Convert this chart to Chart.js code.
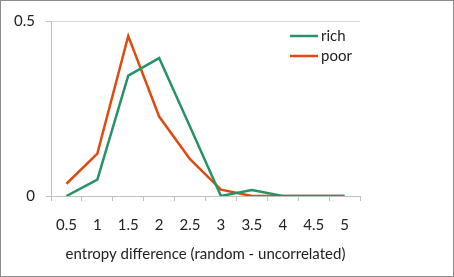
<!DOCTYPE html>
<html>
<head>
<meta charset="utf-8">
<script src="https://cdn.jsdelivr.net/npm/chart.js@4/dist/chart.umd.min.js"></script>
<style>
    body { margin: 0; background: #fff; }
    #wrap { width: 452px; height: 275px; border: 1px solid #8c8c8c; }
</style>
</head>
<body>
<div id="wrap"><canvas id="chart" width="452" height="275"></canvas></div>
<script>
// values
const categories = ['0.5', '1', '1.5', '2', '2.5', '3', '3.5', '4', '4.5', '5'];
const richValues = [0, 0.047, 0.344, 0.394, 0.198, 0, 0.017, 0, 0, 0];
const poorValues = [0.035, 0.121, 0.457, 0.227, 0.105, 0.018, 0, 0, 0, 0];
const yTicks = [0, 0.5];

const fontFamily = 'Lato, "Open Sans", sans-serif';

// legend drawn inside the plot, top right, like the original
const insideLegend = {
    id: 'insideLegend',
    afterDraw(chart) {
        const ctx = chart.ctx;
        const area = chart.chartArea;
        ctx.save();
        ctx.font = '15px ' + fontFamily;
        ctx.textBaseline = 'middle';
        chart.data.datasets.forEach((ds, i) => {
            const y = area.top + 15 + i * 20;
            ctx.strokeStyle = ds.borderColor;
            ctx.lineWidth = 2.5;
            ctx.beginPath();
            ctx.moveTo(area.right - 70, y);
            ctx.lineTo(area.right - 42, y);
            ctx.stroke();
            ctx.fillStyle = '#222';
            ctx.fillText(ds.label, area.right - 39, y);
        });
        ctx.restore();
    }
};

const ctx = document.getElementById('chart').getContext('2d');
new Chart(ctx, {
    type: 'line',
    data: {
        labels: categories,
        datasets: [
            {
                label: 'rich',
                data: richValues,
                borderColor: '#279266',
                borderWidth: 2.5,
                pointRadius: 0,
                tension: 0
            },
            {
                label: 'poor',
                data: poorValues,
                borderColor: '#df4b0f',
                borderWidth: 2.5,
                pointRadius: 0,
                tension: 0
            }
        ]
    },
    options: {
        responsive: false,
        animation: false,
        layout: { padding: { top: 16, right: 93, left: 0, bottom: 0 } },
        plugins: {
            legend: { display: false },
            tooltip: { enabled: false }
        },
        scales: {
            x: {
                offset: true,
                grid: {
                    offset: true,
                    drawOnChartArea: false,
                    tickLength: 5,
                    color: '#bfbfbf'
                },
                border: { color: '#bfbfbf' },
                ticks: {
                    padding: 15,
                    maxRotation: 0,
                    color: '#222',
                    font: { family: fontFamily, size: 15 }
                },
                title: {
                    display: true,
                    text: 'entropy difference (random - uncorrelated)',
                    color: '#222',
                    font: { family: fontFamily, size: 15 },
                    padding: { top: 0, bottom: 13 }
                },
                afterFit(scale) { scale.height = 80; }
            },
            y: {
                min: 0,
                max: 0.5,
                grid: {
                    color: '#d9d9d9',
                    tickLength: 5,
                    tickColor: '#bfbfbf'
                },
                border: { color: '#bfbfbf' },
                ticks: {
                    stepSize: 0.5,
                    padding: 11,
                    color: '#222',
                    font: { family: fontFamily, size: 15 },
                    callback: (v) => yTicks.includes(v) ? String(v) : ''
                },
                afterFit(scale) { scale.width = 50; }
            }
        }
    },
    plugins: [insideLegend]
});
</script>
</body>
</html>
